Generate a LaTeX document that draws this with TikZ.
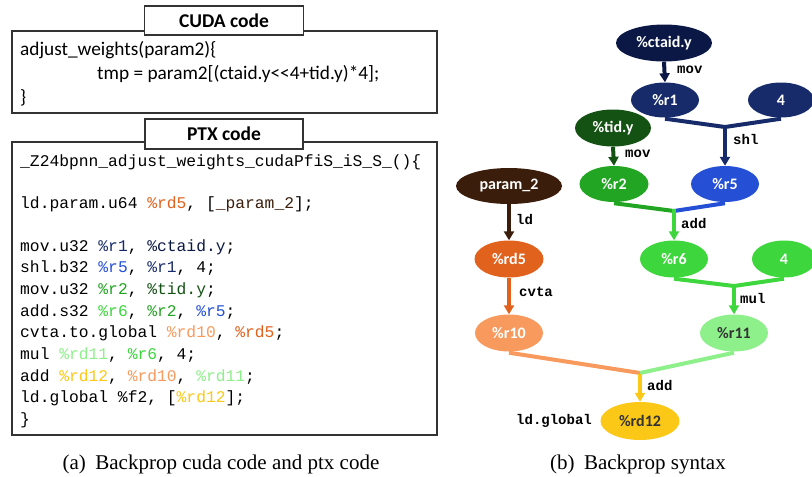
\documentclass[tikz,border=0pt]{standalone}
\usepackage{fontspec}
\setmainfont{Carlito}
\newfontfamily\codefont{Liberation Mono}
\newfontfamily\capfont{Liberation Serif}
\usetikzlibrary{shapes.geometric,arrows.meta}
\definecolor{cNavyD}{HTML}{0B1845}
\definecolor{cNavy}{HTML}{172B6B}
\definecolor{cGreenD}{HTML}{145214}
\definecolor{cGreen}{HTML}{22A522}
\definecolor{cBlue}{HTML}{2550D5}
\definecolor{cGreenB}{HTML}{3DD63D}
\definecolor{cBrown}{HTML}{3B1D0B}
\definecolor{cOrange}{HTML}{E0621D}
\definecolor{cOrangeL}{HTML}{F89A5D}
\definecolor{cGreenL}{HTML}{8EF08A}
\definecolor{cYellow}{HTML}{FCC817}
\definecolor{cTxtD}{HTML}{333333}
\definecolor{cBox}{HTML}{333333}
\tikzset{
  ell/.style={ellipse, inner sep=0pt, minimum height=37pt, text=white,
    font=\fontsize{16}{19}\selectfont\bfseries},
  codebox/.style={draw=cBox, line width=1.2pt, fill=white},
  titlebox/.style={draw=cBox, line width=1.2pt, fill=white, inner sep=0pt,
    font=\fontsize{19.5}{22}\selectfont\bfseries},
  cudaline/.style={anchor=base west, inner sep=0pt, font=\fontsize{19.3}{22}\selectfont},
  ptxline/.style={anchor=base west, inner sep=0pt, font=\codefont\fontsize{16.3}{20}\selectfont},
  elab/.style={anchor=west, inner sep=0pt, font=\codefont\bfseries\fontsize{14}{16}\selectfont},
  seg/.style={line width=4pt},
  arr/.style={line width=4pt, -{Triangle[width=10pt,length=9pt]}},
  capt/.style={font=\capfont\fontsize{21}{24}\selectfont, inner sep=0pt}
}
\begin{document}
\begin{tikzpicture}[x=1pt,y=-1pt]
\useasboundingbox (0,0) rectangle (812,477);
% ---------- CUDA code box ----------
\draw[codebox] (12,31) rectangle (437,113);
\node[titlebox, minimum width=159pt, minimum height=29pt] (cudat) at (224,20.5) {CUDA code};
\node[cudaline] (c1) at (20,55) {adjust\_weights(param2)\{};
\node[cudaline] (c2) at (97,79) {tmp = param2[(ctaid.y<\kern0pt<4+tid.y)*4];};
\node[cudaline] (c3) at (20,103) {\}};
% ---------- PTX code box ----------
\draw[codebox] (12,142) rectangle (437,435);
\node[titlebox, minimum width=158pt, minimum height=30pt] (ptxt) at (224,134) {PTX code};
\node[ptxline] (p1) at (20,166) {\_Z24bpnn\_adjust\_weights\_cudaPfiS\_iS\_S\_()\{};
\node[ptxline] (p2) at (20,208) {ld.param.u64 \textcolor{cOrange}{\%rd5}, [\textcolor{cBrown}{\_param\_2}];};
\node[ptxline] (p3) at (20,251) {mov.u32 \textcolor{cNavy}{\%r1}, \textcolor{cNavyD}{\%ctaid.y};};
\node[ptxline] (p4) at (20,272.5) {shl.b32 \textcolor{cBlue}{\%r5}, \textcolor{cNavy}{\%r1}, 4;};
\node[ptxline] (p5) at (20,294) {mov.u32 \textcolor{cGreen}{\%r2}, \textcolor{cGreenD}{\%tid.y};};
\node[ptxline] (p6) at (20,316) {add.s32 \textcolor{cGreenB}{\%r6}, \textcolor{cGreen}{\%r2}, \textcolor{cBlue}{\%r5};};
\node[ptxline] (p7) at (20,337.5) {cvta.to.global \textcolor{cOrangeL}{\%rd10}, \textcolor{cOrange}{\%rd5};};
\node[ptxline] (p8) at (20,359) {mul \textcolor{cGreenL}{\%rd11}, \textcolor{cGreenB}{\%r6}, 4;};
\node[ptxline] (p9) at (20,381) {add \textcolor{cYellow}{\%rd12}, \textcolor{cOrangeL}{\%rd10}, \textcolor{cGreenL}{\%rd11};};
\node[ptxline] (p10) at (20,402.5) {ld.global \%f2, [\textcolor{cYellow}{\%rd12}];};
\node[ptxline] (p11) at (20,424) {\}};
% ---------- captions ----------
\node[capt] (capa) at (221,464) {(a)\hspace{0.45em}Backprop cuda code and ptx code};
\node[capt] (capb) at (638,464) {(b)\hspace{0.45em}Backprop syntax};
% ---------- graph nodes ----------
\node[ell, fill=cNavyD, minimum width=96pt] (ctaid) at (664,43) {\%ctaid.y};
\node[ell, fill=cNavy, minimum width=68pt, minimum height=35pt] (r1) at (665,100) {\%r1};
\node[ell, fill=cNavy, minimum width=66pt, minimum height=35pt] (four1) at (781,100) {4};
\node[ell, fill=cGreenD, minimum width=76pt] (tid) at (613,128) {\%tid.y};
\node[ell, fill=cGreen, minimum width=69pt, minimum height=36pt] (r2) at (614,184) {\%r2};
\node[ell, fill=cBlue, minimum width=68pt, minimum height=36pt] (r5) at (725,184) {\%r5};
\node[ell, fill=cBrown, minimum width=106pt, minimum height=36pt] (param) at (509,186) {param\_2};
\node[ell, fill=cOrange, minimum width=69pt] (rd5) at (509,259) {\%rd5};
\node[ell, fill=cGreenB, minimum width=68pt] (r6) at (674,259) {\%r6};
\node[ell, fill=cGreenB, minimum width=64pt] (four2) at (784,259) {4};
\node[ell, fill=cOrangeL, minimum width=68pt] (r10) at (509,333) {\%r10};
\node[ell, fill=cGreenL, minimum width=68pt, text=cTxtD] (r11) at (734,333) {\%r11};
\node[ell, fill=cYellow, minimum width=79pt, minimum height=38pt, text=cTxtD] (rd12) at (640,421) {\%rd12};
% ---------- merge points ----------
\coordinate (m1) at (725,127);
\coordinate (m2) at (674,211);
\coordinate (m3) at (734,286);
\coordinate (m4) at (640,373);
% ---------- edges ----------
\draw[arr, cNavyD] (ctaid.south) -- (r1.north);
\draw[seg, cNavy] ([yshift=-1pt]r1.south) -- (m1) -- ([yshift=-1pt]four1.south);
\draw[arr, cNavy] (m1) -- (r5.north);
\draw[arr, cGreenD] (tid.south) -- (r2.north);
\draw[seg, cGreen] ([yshift=-1pt]r2.south) -- (m2);
\draw[seg, cBlue] (m2) -- ([yshift=-1pt]r5.south);
\draw[arr, cGreenB] ([yshift=2pt]m2) -- (r6.north);
\draw[arr, cBrown] (param.south) -- (rd5.north);
\draw[arr, cOrange] (rd5.south) -- (r10.north);
\draw[seg, cGreenB] ([yshift=-1pt]r6.south) -- (m3) -- ([yshift=-1pt]four2.south);
\draw[arr, cGreenB] (m3) -- (r11.north);
\draw[seg, cOrangeL] ([yshift=-1pt]r10.south) -- (m4);
\draw[seg, cGreenL] (m4) -- ([yshift=-1pt]r11.south);
\draw[arr, cYellow] ([yshift=-1pt]m4) -- (rd12.north);
% ---------- edge labels ----------
\node[elab] (l1) at (677,70) {mov};
\node[elab] (l2) at (733,139) {shl};
\node[elab] (l3) at (625,154) {mov};
\node[elab] (l4) at (681,223) {add};
\node[elab] (l5) at (516,219) {ld};
\node[elab] (l6) at (519,292) {cvta};
\node[elab] (l7) at (740,298) {mul};
\node[elab] (l8) at (647,385) {add};
\node[elab] (l9) at (516,421) {ld.global};
\end{tikzpicture}
\end{document}
